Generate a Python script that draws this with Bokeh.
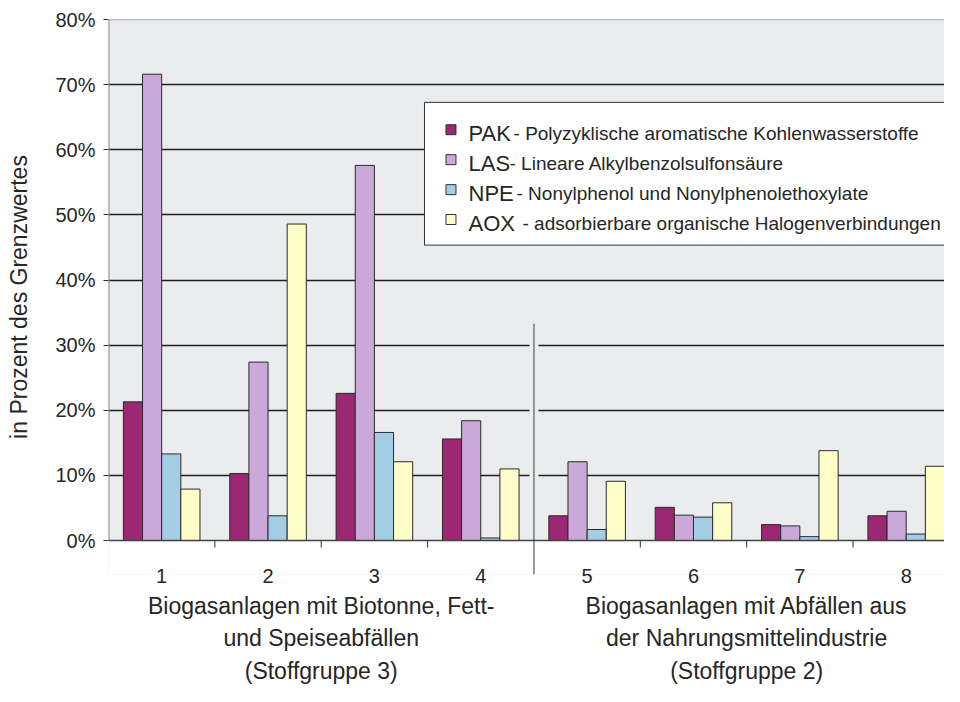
from bokeh.plotting import figure
from bokeh.models import (ColumnDataSource, Range1d, FixedTicker, LinearAxis, Span)
from bokeh.transform import dodge
from bokeh.core.properties import value
from bokeh.embed import file_html
from bokeh.resources import INLINE

# ---------------- data ----------------
categories = [1, 2, 3, 4, 5, 6, 7, 8]
pak = [21.3, 10.3, 22.6, 15.6, 3.8, 5.1, 2.45, 3.8]
las = [71.6, 27.4, 57.6, 18.4, 12.1, 3.9, 2.25, 4.5]
npe = [13.3, 3.8, 16.6, 0.4, 1.7, 3.6, 0.6, 1.0]
aox = [7.9, 48.6, 12.1, 11.0, 9.1, 5.8, 13.8, 11.4]

series_keys = ["pak", "las", "npe", "aox"]
series_abbr = ["PAK", "LAS", "NPE", "AOX"]
series_desc = ["- Polyzyklische aromatische Kohlenwasserstoffe",
               "- Lineare Alkylbenzolsulfonsäure",
               "- Nonylphenol und Nonylphenolethoxylate",
               "- adsorbierbare organische Halogenverbindungen"]
series_colors = ["#9C2772", "#CAA9DA", "#A2CDE4", "#FFFDC8"]

group1 = [1, 2, 3, 4]
group2 = [5, 6, 7, 8]
group_labels = ["Biogasanlagen mit Biotonne, Fett-\nund Speiseabfällen\n(Stoffgruppe 3)",
                "Biogasanlagen mit Abfällen aus\nder Nahrungsmittelindustrie\n(Stoffgruppe 2)"]
y_ticks = [0, 10, 20, 30, 40, 50, 60, 70, 80]
y_label = "in Prozent des Grenzwertes"

# ---------------- style / layout ----------------
FONT = "Liberation Sans"
TXT = "#262626"
BG = "#EBECEE"
bar_w = 0.18
offsets = [-0.27, -0.09, 0.09, 0.27]
PX_PER_UNIT = 6.525            # vertical pixels per percent
Y0 = 34 / PX_PER_UNIT          # room below 0 for the group separator
X_END = 8.36

src = ColumnDataSource(dict(x=categories, pak=pak, las=las, npe=npe, aox=aox))

p = figure(width=944, height=686, output_backend="svg", toolbar_location=None,
           x_range=Range1d(0.5, X_END), y_range=Range1d(-Y0, y_ticks[-1]),
           min_border_left=108, min_border_right=0, min_border_top=19,
           min_border_bottom=111)
p.background_fill_color = BG
p.border_fill_color = "white"
p.outline_line_color = None

p.xgrid.visible = False
p.ygrid.ticker = FixedTicker(ticks=y_ticks[1:-1])
p.ygrid.grid_line_color = "#1e1e1e"
p.ygrid.grid_line_width = 1.3

# top border of the plot area
p.add_layout(Span(location=y_ticks[-1], dimension="width",
                  line_color="#8a8a8a", line_width=1.5))

# white strip below the zero line
p.quad(left=[0.5], right=[X_END], bottom=[-Y0], top=[0],
       fill_color="white", line_color=None)

for key, col, off in zip(series_keys, series_colors, offsets):
    p.vbar(x=dodge("x", off, range=p.x_range), top=key, width=bar_w, source=src,
           fill_color=col, line_color="#2a2a2a", line_width=1)

# zero line, y-axis line and category ticks
p.add_layout(Span(location=0, dimension="width", line_color="#444444", line_width=1.5))
p.segment(x0=[0.5], y0=[0], x1=[0.5], y1=[y_ticks[-1]], line_color="#8a8a8a", line_width=2)
sep_x = (group1[-1] + group2[0]) / 2
between = [c + 0.5 for c in categories[:-1] if c + 0.5 != sep_x]
p.segment(x0=between, y0=[0] * len(between), x1=between,
          y1=[-7 / PX_PER_UNIT] * len(between), line_color="#333333", line_width=1)

# separator between the two groups
sep_top = 33.3
p.rect(x=[sep_x], y=[sep_top / 2], width=9, height=sep_top, width_units="screen",
       fill_color=BG, line_color=None)
p.segment(x0=[sep_x], y0=[sep_top], x1=[sep_x], y1=[-Y0],
          line_color="#7a7a7a", line_width=1.5)

# legend (manual, to allow mixed font sizes)
lg_left, lg_right, lg_top, lg_bottom = 3.471, 8.7, 67.28, 45.36
p.quad(left=[lg_left], right=[lg_right], top=[lg_top], bottom=[lg_bottom],
       fill_color="white", line_color="#333333", line_width=1)
row_base = [62.53, 57.93, 53.33, 48.74]
sq_y = [b + 0.55 for b in row_base]
p.rect(x=[3.720] * 4, y=sq_y, width=10, height=10, width_units="screen",
       height_units="screen", fill_color=series_colors, line_color="#333333")
p.text(x=[3.885] * 4, y=row_base, text=series_abbr, text_font=value(FONT),
       text_font_size="22px", text_baseline="alphabetic", text_align="left",
       text_color=TXT)
desc_x = [4.308, 4.270, 4.336, 4.392]
p.text(x=desc_x, y=row_base, text=series_desc, text_font=value(FONT),
       text_font_size="19px", text_baseline="alphabetic", text_align="left",
       text_color=TXT)

# y axis
p.yaxis.ticker = FixedTicker(ticks=y_ticks)
p.yaxis.major_label_overrides = {t: f"{t}%" for t in y_ticks}
p.yaxis.axis_line_color = None
p.yaxis.major_tick_line_color = "#333333"
p.yaxis.major_tick_out = 5
p.yaxis.major_tick_in = 0
p.yaxis.minor_tick_line_color = None
p.yaxis.major_label_standoff = 8
p.yaxis.major_label_text_font = FONT
p.yaxis.major_label_text_font_size = "20px"
p.yaxis.major_label_text_color = TXT
p.yaxis.axis_label = y_label
p.yaxis.axis_label_text_font = FONT
p.yaxis.axis_label_text_font_size = "23px"
p.yaxis.axis_label_text_font_style = "normal"
p.yaxis.axis_label_text_color = TXT
p.yaxis.axis_label_standoff = 20

# x axis with category numbers
p.xaxis.ticker = FixedTicker(ticks=categories)
p.xaxis.axis_line_color = None
p.xaxis.major_tick_line_color = None
p.xaxis.minor_tick_line_color = None
p.xaxis.major_tick_out = 0
p.xaxis.major_tick_in = 0
p.xaxis.major_label_standoff = -6
p.xaxis.major_label_text_font = FONT
p.xaxis.major_label_text_font_size = "20px"
p.xaxis.major_label_text_color = TXT

# group labels
g_pos = [sum(group1) / len(group1), sum(group2) / len(group2)]
gax = LinearAxis(ticker=FixedTicker(ticks=g_pos),
                 major_label_overrides={g: t for g, t in zip(g_pos, group_labels)})
gax.axis_line_color = None
gax.major_tick_line_color = None
gax.minor_tick_line_color = None
gax.major_tick_out = 0
gax.major_label_standoff = 7
gax.major_label_text_font = FONT
gax.major_label_text_font_size = "23px"
gax.major_label_text_color = TXT
gax.major_label_text_line_height = 1.25
p.add_layout(gax, "below")

open("out.html", "w").write(file_html(p, INLINE))
